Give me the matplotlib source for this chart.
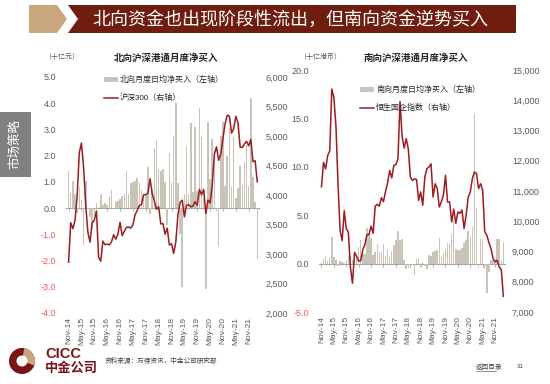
import numpy as np
import matplotlib
matplotlib.use('Agg')
import matplotlib.pyplot as plt
from matplotlib.patches import Polygon, Rectangle, Wedge, Patch
from matplotlib.lines import Line2D

plt.rcParams['font.family'] = ['Liberation Sans', 'Noto Sans CJK SC']

# monthly, Nov-14 .. Mar-22
tick_labels = ['Nov-14', 'May-15', 'Nov-15', 'May-16', 'Nov-16', 'May-17', 'Nov-17', 'May-18',
               'Nov-18', 'May-19', 'Nov-19', 'May-20', 'Nov-20', 'May-21', 'Nov-21']

# 北向月度日均净买入 (十亿元)
north_flow = [1.40, 0.58, 1.05, 0.55, -0.20, 0.80, 0.30, -1.42, 1.02, -0.05,
              -0.35, -0.80, -0.30, 0.18, 0.05, 0.55, 0.12, 0.20, 0.10, 0.45,
              0.68, -0.05, 0.25, 0.28, 0.35, 0.48, 0.55, 1.42, 0.55, 0.95,
              1.00, 1.05, 1.15, 0.95, 0.70, 0.55, 0.50, 1.58, -0.22, 0.70,
              2.28, 2.60, 1.50, 1.40, 1.50, 1.00, -0.65, 2.10, 0.95, 2.75,
              4.00, 0.95, -1.00, -3.00, 0.55, 2.37, 0.55, 3.25, 0.60, 3.10,
              0.65, 3.80, 2.70, 0.35, -3.10, 3.30, 1.10, 2.65, 2.20, -0.10,
              -1.45, 2.75, 3.30, 0.85, 2.00, 3.05, 0.80, 2.70, 0.40, 0.75,
              1.60, 0.90, 1.75, 2.40, 0.85, 4.20, 1.20, 0.25, -1.95]

# 沪深300
hs300 = [2860, 3530,
         3430, 3570, 3990, 4720, 4880, 4470, 3820, 3370, 3200, 3530, 3570, 3730,
         2946, 2877, 3218, 3157, 3169, 3154, 3204, 3327, 3253, 3336, 3538, 3310,
         3387, 3453, 3456, 3439, 3493, 3666, 3737, 3822, 3837, 4006, 4006, 4031,
         4275, 4023, 3899, 3756, 3802, 3510, 3517, 3335, 3438, 3153, 3173, 3011,
         3202, 3670, 3872, 3913, 3630, 3826, 3836, 3799, 3815, 3887, 3829, 4097,
         4003, 4094, 3686, 3912, 3868, 4164, 4695, 4816, 4588, 4695, 4961, 5212,
         5352, 5337, 5048, 5124, 5332, 5224, 4812, 4806, 4866, 4908, 4833, 4940,
         4564, 4581, 4222]

# 南向月度日均净买入 (十亿港币)
south_flow = [0.10, 0.50, 0.75, 0.25, 0.55, 2.70, 0.70, 0.40, -0.20, 0.25,
              0.20, 0.05, 0.40, 0.75, 0.80, 0.40, 0.55, 0.75, 1.70, 2.45,
              1.10, 1.00, 3.65, 3.05, 2.60, 0.90, 1.20, 2.00, 1.20, 1.20,
              2.00, 0.80, 1.50, 0.70, 1.33, 1.95, 2.45, 3.40, 2.45, 2.50,
              0.40, -0.60, -0.45, -0.45, -0.10, -1.20, 0.50, 0.60, -0.30, 0.15,
              -0.20, -0.60, 0.90, 0.75, 1.15, 1.30, 1.45, 2.60, 0.70, 1.10,
              1.50, 2.10, 2.00, 3.05, 4.50, 1.50, 1.45, 1.45, 1.60, 2.10,
              2.45, 3.40, 2.70, 3.80, 15.50, 5.70, -0.45, 2.50, 2.50, -0.60,
              -3.00, -0.90, 0.40, 0.40, 0.40, 2.55, 2.50, 0.40, 2.25]

# 恒生国企指数
hscei = [11140, 11950, 11730, 12170, 12330, 14370, 14090, 13150, 11230, 9690,
         9360, 10350, 9760, 9640, 8480, 7950, 8970, 8840, 8680, 8700,
         9060, 9230, 9560, 9560, 9840, 9600, 10500, 10560, 10500, 10780,
         10650, 10990, 11270, 11680, 11430, 11850, 11870, 12060, 13960, 12810,
         12420, 12730, 12400, 11460, 11350, 11400, 11380, 10690, 10970, 10530,
         11460, 11740, 11790, 11900, 10800, 11240, 11080, 10470, 10640, 10860,
         11520, 10640, 10640, 9980, 10400, 9930, 10310, 10260, 10370, 9760,
         10200, 10800, 10970, 11410, 11630, 11580, 11080, 11240, 11020, 9650,
         9540, 9300, 9100, 8770, 8660, 8710, 8490, 8400, 7520]

W, H = 550, 384
BAR = '#CAC3B8'
LINE = '#9C1C20'
GREY = '#595959'
NEG = '#FF5050'
AXC = '#A6A6A6'


def fx(x):
    return x / W


def fy(y):
    return 1 - y / H


def make_panel(fig, rect, flow, index, ylo, yhi, rlo, rhi, rstep, title, unit, unit_x, title_x,
               leg_x, leg_y, names):
    x = np.arange(len(flow))
    ax = fig.add_axes(rect)
    ax.bar(x, flow, width=0.72, color=BAR, zorder=2)
    ax.set_ylim(ylo, yhi)
    ax.set_xlim(-1.2, len(flow) - 0.2)
    yt = np.arange(ylo, yhi + 0.01, (yhi - ylo) / (9 if yhi == 5 else 5))
    ax.set_yticks(yt)
    ax.set_yticklabels(['%.1f' % v for v in yt], fontsize=6.5)
    for lab, v in zip(ax.get_yticklabels(), yt):
        lab.set_color(NEG if v < 0 else GREY)
    ax.tick_params(axis='y', length=0, pad=7)
    ax.set_xticks(range(0, len(flow), 6))
    ax.set_xticklabels(tick_labels, rotation=90, fontsize=6, color=GREY)
    ax.tick_params(axis='x', length=0, pad=3)
    for s in ax.spines.values():
        s.set_visible(False)

    # zero line with small ticks
    sec = ax.secondary_xaxis((0 - ylo) / (yhi - ylo))
    sec.set_xticks(range(0, len(flow), 6))
    sec.set_xticklabels([])
    sec.tick_params(length=2.5, width=0.6, color=AXC, direction='out')
    sec.spines['bottom'].set_color(AXC)
    sec.spines['bottom'].set_linewidth(0.8)

    axr = ax.twinx()
    axr.plot(x, index, color=LINE, lw=1.1, zorder=3)
    axr.set_ylim(rlo, rhi)
    rt = np.arange(rlo, rhi + 1, rstep)
    axr.set_yticks(rt)
    axr.set_yticklabels(['{:,}'.format(int(v)) for v in rt], fontsize=6.5, color=GREY)
    axr.tick_params(axis='y', length=0, pad=5)
    for s in axr.spines.values():
        s.set_visible(False)

    fig.text(fx(title_x), fy(58), title, ha='center', va='center', fontsize=6.8,
             fontweight='bold', color='#262626')
    fig.text(fx(unit_x), fy(57), unit, ha='center', va='center', fontsize=5, color=GREY)

    handles = [Patch(facecolor=BAR, edgecolor='none'), Line2D([], [], color=LINE, lw=1.1)]
    axr.legend(handles, names, loc='upper left', bbox_to_anchor=(fx(leg_x), fy(leg_y)),
               bbox_transform=fig.transFigure, frameon=False, fontsize=5.8,
               handlelength=1.7, handleheight=0.55, labelspacing=1.25, handletextpad=0.3,
               borderaxespad=0, borderpad=0, labelcolor='#262626')
    return ax, axr


fig = plt.figure(figsize=(W / 100, H / 100), dpi=100)

# header band
tan = '#C9A77C'
dark = '#6F1D0E'
fig.patches.append(Polygon([(fx(29), fy(5)), (fx(57), fy(5)), (fx(67), fy(19)), (fx(57), fy(33)),
                            (fx(29), fy(33))], closed=True, transform=fig.transFigure,
                           facecolor=tan, edgecolor='none'))
fig.patches.append(Polygon([(fx(68), fy(5)), (fx(516), fy(5)), (fx(516), fy(33)), (fx(68), fy(33)),
                            (fx(78), fy(19))], closed=True, transform=fig.transFigure,
                           facecolor=dark, edgecolor='none'))
fig.text(fx(92), fy(19.5), '北向资金也出现阶段性流出，但南向资金逆势买入', color='white',
         fontsize=13, ha='left', va='center')

# side tab
fig.patches.append(Rectangle((fx(0), fy(177)), fx(31), 65 / H, transform=fig.transFigure,
                             facecolor='#808080', edgecolor='none'))
fig.text(fx(15.5), fy(144.5), '市场策略', rotation=90, color='white', fontsize=9,
         ha='center', va='center')

make_panel(fig, [fx(66), fy(313), (259 - 66) / W, (313 - 77) / H], north_flow, hs300,
           -4, 5, 2000, 6000, 500, '北向沪深港通月度净买入', '（十亿元）', 62, 166, 104, 76,
           ['北向月度日均净买入（左轴）', '沪深300（右轴）'])
make_panel(fig, [fx(319), fy(312), (505 - 319) / W, (312 - 70) / H], south_flow, hscei,
           -5, 20, 7000, 15000, 1000, '南向沪深港通月度净买入', '（十亿港币）', 320, 416, 360, 86,
           ['南向月度日均净买入（左轴）', '恒生国企指数（右轴）'])

# footer logo, drawn in inches so the circle stays round
logo_red = '#7A1416'
cx, cy, r = 22 / 100, (H - 361) / 100, 13 / 100
inch = fig.dpi_scale_trans
fig.patches.append(Wedge((cx, cy), r, 0, 360, transform=inch, facecolor=logo_red,
                         edgecolor='none'))
fig.patches.append(Wedge((cx, cy), r, -20, 80, transform=inch, facecolor=tan,
                         edgecolor='none'))
fig.patches.append(Wedge((cx, cy), 5.5 / 100, 0, 360, transform=inch, facecolor='white',
                         edgecolor='none'))
fig.text(fx(45), fy(354), 'CICC', fontsize=10.5, fontweight='bold', color=logo_red,
         ha='left', va='center')
fig.text(fx(45), fy(369), '中金公司', fontsize=9.5, fontweight='bold', color=logo_red,
         ha='left', va='center')
fig.text(fx(105), fy(361), '资料来源：万得资讯，中金公司研究部', fontsize=4.8, color='#404040',
         ha='left', va='center')
fig.text(fx(476), fy(367), '返回目录', fontsize=4.8, color='#404040', ha='left', va='center')
fig.add_artist(Line2D([fx(476), fx(496)], [fy(371), fy(371)], color='#404040', lw=0.4,
                      transform=fig.transFigure))
fig.text(fx(517), fy(366), '31', fontsize=4.5, color='#404040', ha='left', va='center')

fig.savefig('out.png', dpi=100)
